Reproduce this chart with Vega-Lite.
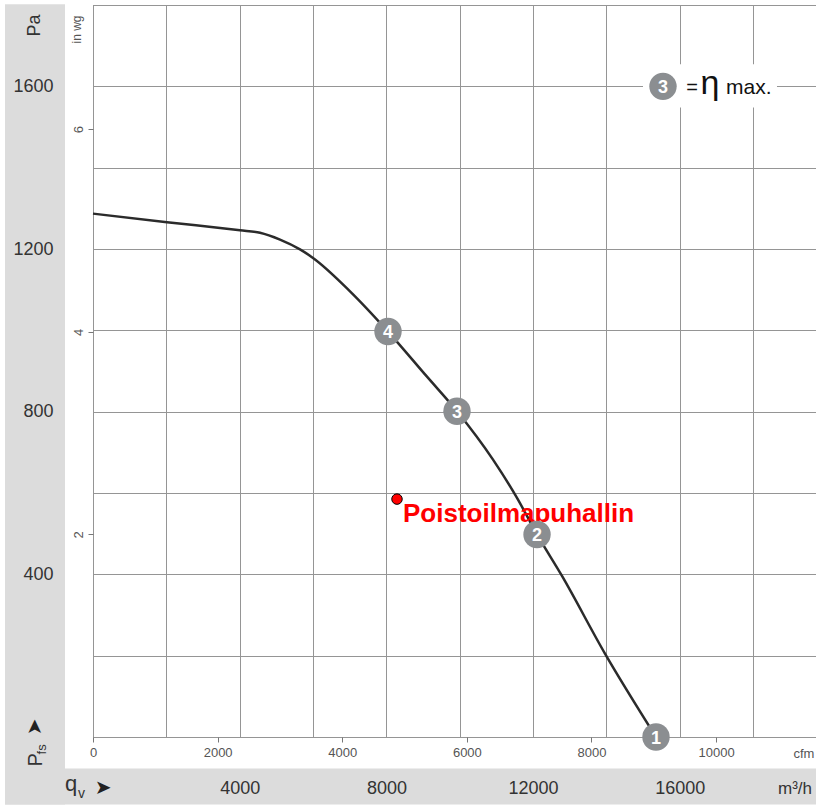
{
  "$schema": "https://vega.github.io/schema/vega-lite/v6.json",
  "width": 723,
  "height": 732,
  "autosize": {"type": "none"},
  "padding": {"left": 93, "top": 5, "right": 0, "bottom": 68},
  "background": "white",
  "config": {
    "view": {"stroke": "#707070", "strokeWidth": 1},
    "font": "Liberation Sans",
    "axis": {"gridColor": "#959595", "gridWidth": 1, "gridOpacity": 1}
  },
  "data": {"values": [{}]},
  "datasets": {
    "curve": [
      {"q": 0, "p": 1287},
      {"q": 2018, "p": 1266},
      {"q": 4008, "p": 1246},
      {"q": 4554, "p": 1240},
      {"q": 5099, "p": 1223},
      {"q": 5644, "p": 1199},
      {"q": 5999, "p": 1178},
      {"q": 7008, "p": 1096},
      {"q": 8044, "p": 997},
      {"q": 9107, "p": 886},
      {"q": 9925, "p": 801},
      {"q": 10907, "p": 682},
      {"q": 11561, "p": 588},
      {"q": 12107, "p": 498},
      {"q": 12788, "p": 396},
      {"q": 13960, "p": 205},
      {"q": 15351, "p": 0}
    ],
    "markers": [
      {"n": "1", "q": 15351, "p": 0},
      {"n": "2", "q": 12107, "p": 498},
      {"n": "3", "q": 9925, "p": 801},
      {"n": "4", "q": 8044, "p": 997}
    ],
    "duty": [{"name": "Poistoilmapuhallin", "q": 8289, "p": 585}]
  },
  "layer": [
    {
      "layer": [
        {
          "mark": {"type": "rect", "color": "#dcdcdc"},
          "encoding": {
            "x": {"datum": -2399, "type": "quantitative", "scale": {"domain": [0, 19714], "nice": false, "zero": false},
                  "axis": {"orient": "bottom", "grid": true, "values": [0, 2000, 4000, 6000, 8000, 10000, 12000, 14000, 16000, 18000], "labels": false, "ticks": false, "domain": false, "title": null}},
            "x2": {"datum": -763},
            "y": {"datum": -166, "type": "quantitative", "scale": {"domain": [0, 1800], "nice": false, "zero": false},
                  "axis": {"orient": "left", "grid": true, "values": [0, 200, 400, 600, 800, 1000, 1200, 1400, 1600, 1800], "labels": false, "ticks": false, "domain": false, "title": null}},
            "y2": {"datum": 1802}
          }
        },
        {
          "mark": {"type": "rect", "color": "#dcdcdc"},
          "encoding": {
            "x": {"datum": -2399, "type": "quantitative", "axis": {"orient": "bottom", "grid": true, "values": [0, 2000, 4000, 6000, 8000, 10000, 12000, 14000, 16000, 18000], "labels": false, "ticks": false, "domain": false, "title": null}},
            "x2": {"datum": 19800},
            "y": {"datum": -166, "type": "quantitative", "axis": {"orient": "left", "grid": true, "values": [0, 200, 400, 600, 800, 1000, 1200, 1400, 1600, 1800], "labels": false, "ticks": false, "domain": false, "title": null}},
            "y2": {"datum": -77.5}
          }
        },
        {
          "mark": {"type": "rect", "color": "white"},
          "encoding": {
            "x": {"datum": 14997, "type": "quantitative", "axis": {"orient": "bottom", "grid": true, "values": [0, 2000, 4000, 6000, 8000, 10000, 12000, 14000, 16000, 18000], "labels": false, "ticks": false, "domain": false, "title": null}},
            "x2": {"datum": 18650},
            "y": {"datum": 1548, "type": "quantitative", "axis": {"orient": "left", "grid": true, "values": [0, 200, 400, 600, 800, 1000, 1200, 1400, 1600, 1800], "labels": false, "ticks": false, "domain": false, "title": null}},
            "y2": {"datum": 1654}
          }
        },
        {
          "data": {"name": "curve"},
          "mark": {"type": "line", "interpolate": "monotone", "color": "#2b2b2b", "strokeWidth": 2.5},
          "encoding": {
            "x": {"field": "q", "type": "quantitative", "axis": {"orient": "bottom", "grid": true, "values": [0, 2000, 4000, 6000, 8000, 10000, 12000, 14000, 16000, 18000], "labels": false, "ticks": false, "domain": false, "title": null}},
            "y": {"field": "p", "type": "quantitative", "axis": {"orient": "left", "grid": true, "values": [0, 200, 400, 600, 800, 1000, 1200, 1400, 1600, 1800], "labels": false, "ticks": false, "domain": false, "title": null}}
          }
        },
        {
          "data": {"name": "duty"},
          "mark": {"type": "point", "shape": "circle", "filled": true, "size": 110, "fill": "#ff0000", "stroke": "#000000", "strokeWidth": 1, "opacity": 1},
          "encoding": {
            "x": {"field": "q", "type": "quantitative", "axis": {"orient": "bottom", "grid": true, "values": [0, 2000, 4000, 6000, 8000, 10000, 12000, 14000, 16000, 18000], "labels": false, "ticks": false, "domain": false, "title": null}},
            "y": {"field": "p", "type": "quantitative", "axis": {"orient": "left", "grid": true, "values": [0, 200, 400, 600, 800, 1000, 1200, 1400, 1600, 1800], "labels": false, "ticks": false, "domain": false, "title": null}}
          }
        },
        {
          "data": {"name": "duty"},
          "mark": {"type": "text", "color": "#ff0000", "font": "Liberation Sans", "fontWeight": "bold", "fontSize": 26, "align": "left", "baseline": "alphabetic", "dx": 6, "dy": 22.5},
          "encoding": {
            "x": {"field": "q", "type": "quantitative", "axis": {"orient": "bottom", "grid": true, "values": [0, 2000, 4000, 6000, 8000, 10000, 12000, 14000, 16000, 18000], "labels": false, "ticks": false, "domain": false, "title": null}},
            "y": {"field": "p", "type": "quantitative", "axis": {"orient": "left", "grid": true, "values": [0, 200, 400, 600, 800, 1000, 1200, 1400, 1600, 1800], "labels": false, "ticks": false, "domain": false, "title": null}},
            "text": {"field": "name"}
          }
        },
        {
          "data": {"name": "markers"},
          "mark": {"type": "point", "shape": "circle", "filled": true, "size": 750, "color": "#8b8e91", "opacity": 1},
          "encoding": {
            "x": {"field": "q", "type": "quantitative", "axis": {"orient": "bottom", "grid": true, "values": [0, 2000, 4000, 6000, 8000, 10000, 12000, 14000, 16000, 18000], "labels": false, "ticks": false, "domain": false, "title": null}},
            "y": {"field": "p", "type": "quantitative", "axis": {"orient": "left", "grid": true, "values": [0, 200, 400, 600, 800, 1000, 1200, 1400, 1600, 1800], "labels": false, "ticks": false, "domain": false, "title": null}}
          }
        },
        {
          "data": {"name": "markers"},
          "mark": {"type": "text", "color": "white", "font": "Liberation Sans", "fontWeight": "bold", "fontSize": 18, "align": "center", "baseline": "alphabetic", "dy": 6.5},
          "encoding": {
            "x": {"field": "q", "type": "quantitative", "axis": {"orient": "bottom", "grid": true, "values": [0, 2000, 4000, 6000, 8000, 10000, 12000, 14000, 16000, 18000], "labels": false, "ticks": false, "domain": false, "title": null}},
            "y": {"field": "p", "type": "quantitative", "axis": {"orient": "left", "grid": true, "values": [0, 200, 400, 600, 800, 1000, 1200, 1400, 1600, 1800], "labels": false, "ticks": false, "domain": false, "title": null}},
            "text": {"field": "n"}
          }
        },
        {
          "mark": {"type": "point", "shape": "circle", "filled": true, "size": 750, "color": "#8b8e91", "opacity": 1},
          "encoding": {
            "x": {"datum": 15542, "type": "quantitative", "axis": {"orient": "bottom", "grid": true, "values": [0, 2000, 4000, 6000, 8000, 10000, 12000, 14000, 16000, 18000], "labels": false, "ticks": false, "domain": false, "title": null}},
            "y": {"datum": 1600, "type": "quantitative", "axis": {"orient": "left", "grid": true, "values": [0, 200, 400, 600, 800, 1000, 1200, 1400, 1600, 1800], "labels": false, "ticks": false, "domain": false, "title": null}}
          }
        },
        {
          "mark": {"type": "text", "text": "3", "color": "white", "font": "Liberation Sans", "fontWeight": "bold", "fontSize": 18, "align": "center", "baseline": "alphabetic", "dy": 6.5},
          "encoding": {
            "x": {"datum": 15542, "type": "quantitative", "axis": {"orient": "bottom", "grid": true, "values": [0, 2000, 4000, 6000, 8000, 10000, 12000, 14000, 16000, 18000], "labels": false, "ticks": false, "domain": false, "title": null}},
            "y": {"datum": 1600, "type": "quantitative", "axis": {"orient": "left", "grid": true, "values": [0, 200, 400, 600, 800, 1000, 1200, 1400, 1600, 1800], "labels": false, "ticks": false, "domain": false, "title": null}}
          }
        },
        {
          "mark": {"type": "text", "text": "=", "color": "#111111", "font": "Liberation Sans", "fontSize": 20, "align": "center", "baseline": "alphabetic"},
          "encoding": {
            "x": {"datum": 16333, "type": "quantitative", "axis": {"orient": "bottom", "grid": true, "values": [0, 2000, 4000, 6000, 8000, 10000, 12000, 14000, 16000, 18000], "labels": false, "ticks": false, "domain": false, "title": null}},
            "y": {"datum": 1582, "type": "quantitative", "axis": {"orient": "left", "grid": true, "values": [0, 200, 400, 600, 800, 1000, 1200, 1400, 1600, 1800], "labels": false, "ticks": false, "domain": false, "title": null}}
          }
        },
        {
          "mark": {"type": "text", "text": "η", "color": "#111111", "font": "Liberation Sans", "fontSize": 34, "align": "center", "baseline": "alphabetic"},
          "encoding": {
            "x": {"datum": 16824, "type": "quantitative", "axis": {"orient": "bottom", "grid": true, "values": [0, 2000, 4000, 6000, 8000, 10000, 12000, 14000, 16000, 18000], "labels": false, "ticks": false, "domain": false, "title": null}},
            "y": {"datum": 1582, "type": "quantitative", "axis": {"orient": "left", "grid": true, "values": [0, 200, 400, 600, 800, 1000, 1200, 1400, 1600, 1800], "labels": false, "ticks": false, "domain": false, "title": null}}
          }
        },
        {
          "mark": {"type": "text", "text": "max.", "color": "#111111", "font": "Liberation Sans", "fontSize": 21, "align": "left", "baseline": "alphabetic"},
          "encoding": {
            "x": {"datum": 17260, "type": "quantitative", "axis": {"orient": "bottom", "grid": true, "values": [0, 2000, 4000, 6000, 8000, 10000, 12000, 14000, 16000, 18000], "labels": false, "ticks": false, "domain": false, "title": null}},
            "y": {"datum": 1582, "type": "quantitative", "axis": {"orient": "left", "grid": true, "values": [0, 200, 400, 600, 800, 1000, 1200, 1400, 1600, 1800], "labels": false, "ticks": false, "domain": false, "title": null}}
          }
        },
        {
          "mark": {"type": "text", "text": "q", "color": "#333333", "font": "Liberation Sans", "fontSize": 22, "align": "left", "baseline": "alphabetic"},
          "encoding": {
            "x": {"datum": -763, "type": "quantitative", "axis": {"orient": "bottom", "grid": true, "values": [0, 2000, 4000, 6000, 8000, 10000, 12000, 14000, 16000, 18000], "labels": false, "ticks": false, "domain": false, "title": null}},
            "y": {"datum": -134, "type": "quantitative", "axis": {"orient": "left", "grid": true, "values": [0, 200, 400, 600, 800, 1000, 1200, 1400, 1600, 1800], "labels": false, "ticks": false, "domain": false, "title": null}}
          }
        },
        {
          "mark": {"type": "text", "text": "v", "color": "#333333", "font": "Liberation Sans", "fontSize": 14, "align": "left", "baseline": "alphabetic"},
          "encoding": {
            "x": {"datum": -409, "type": "quantitative", "axis": {"orient": "bottom", "grid": true, "values": [0, 2000, 4000, 6000, 8000, 10000, 12000, 14000, 16000, 18000], "labels": false, "ticks": false, "domain": false, "title": null}},
            "y": {"datum": -149, "type": "quantitative", "axis": {"orient": "left", "grid": true, "values": [0, 200, 400, 600, 800, 1000, 1200, 1400, 1600, 1800], "labels": false, "ticks": false, "domain": false, "title": null}}
          }
        },
        {
          "mark": {"type": "text", "text": "➤", "color": "#222222", "font": "DejaVu Sans", "fontSize": 20, "align": "center", "baseline": "middle"},
          "encoding": {
            "x": {"datum": 273, "type": "quantitative", "axis": {"orient": "bottom", "grid": true, "values": [0, 2000, 4000, 6000, 8000, 10000, 12000, 14000, 16000, 18000], "labels": false, "ticks": false, "domain": false, "title": null}},
            "y": {"datum": -125, "type": "quantitative", "axis": {"orient": "left", "grid": true, "values": [0, 200, 400, 600, 800, 1000, 1200, 1400, 1600, 1800], "labels": false, "ticks": false, "domain": false, "title": null}}
          }
        },
        {
          "mark": {"type": "text", "text": "P", "color": "#333333", "font": "Liberation Sans", "fontSize": 20, "align": "left", "baseline": "alphabetic", "angle": -90},
          "encoding": {
            "x": {"datum": -1391, "type": "quantitative", "axis": {"orient": "bottom", "grid": true, "values": [0, 2000, 4000, 6000, 8000, 10000, 12000, 14000, 16000, 18000], "labels": false, "ticks": false, "domain": false, "title": null}},
            "y": {"datum": -72.5, "type": "quantitative", "axis": {"orient": "left", "grid": true, "values": [0, 200, 400, 600, 800, 1000, 1200, 1400, 1600, 1800], "labels": false, "ticks": false, "domain": false, "title": null}}
          }
        },
        {
          "mark": {"type": "text", "text": "fs", "color": "#333333", "font": "Liberation Sans", "fontSize": 13, "align": "left", "baseline": "alphabetic", "angle": -90},
          "encoding": {
            "x": {"datum": -1282, "type": "quantitative", "axis": {"orient": "bottom", "grid": true, "values": [0, 2000, 4000, 6000, 8000, 10000, 12000, 14000, 16000, 18000], "labels": false, "ticks": false, "domain": false, "title": null}},
            "y": {"datum": -43, "type": "quantitative", "axis": {"orient": "left", "grid": true, "values": [0, 200, 400, 600, 800, 1000, 1200, 1400, 1600, 1800], "labels": false, "ticks": false, "domain": false, "title": null}}
          }
        },
        {
          "mark": {"type": "text", "text": "➤", "color": "#222222", "font": "DejaVu Sans", "fontSize": 20, "align": "center", "baseline": "middle", "angle": -90},
          "encoding": {
            "x": {"datum": -1581, "type": "quantitative", "axis": {"orient": "bottom", "grid": true, "values": [0, 2000, 4000, 6000, 8000, 10000, 12000, 14000, 16000, 18000], "labels": false, "ticks": false, "domain": false, "title": null}},
            "y": {"datum": 24.6, "type": "quantitative", "axis": {"orient": "left", "grid": true, "values": [0, 200, 400, 600, 800, 1000, 1200, 1400, 1600, 1800], "labels": false, "ticks": false, "domain": false, "title": null}}
          }
        }
      ]
    },
    {
      "mark": {"type": "point", "opacity": 0},
      "encoding": {
        "x": {"datum": 0, "type": "quantitative", "scale": {"domain": [0, 19714], "nice": false, "zero": false},
              "axis": {"orient": "bottom", "values": [4000, 8000, 12000, 16000], "format": "d", "grid": false, "ticks": false, "domain": false,
                       "labelFont": "Liberation Sans", "labelFontSize": 18, "labelColor": "#333333", "labelBaseline": "alphabetic", "labelPadding": 56, "labelFlush": false, "labelOverlap": false,
                       "title": "m³/h", "titleX": 701.5, "titleY": 56.5, "titleAlign": "center", "titleBaseline": "alphabetic", "titleFont": "Liberation Sans", "titleFontSize": 17, "titleFontWeight": "normal", "titleColor": "#333333", "zindex": 1}},
        "y": {"datum": 0, "type": "quantitative", "scale": {"domain": [0, 1800], "nice": false, "zero": false},
              "axis": {"orient": "left", "values": [400, 800, 1200, 1600], "format": "d", "grid": false, "ticks": false, "domain": false,
                       "labelFont": "Liberation Sans", "labelFontSize": 18, "labelColor": "#333333", "labelPadding": 40, "labelOverlap": false,
                       "title": "Pa", "titleX": -59, "titleY": 20, "titleAngle": -90, "titleAlign": "center", "titleBaseline": "middle", "titleFont": "Liberation Sans", "titleFontSize": 18, "titleFontWeight": "normal", "titleColor": "#333333", "zindex": 1}}
      }
    },
    {
      "mark": {"type": "point", "opacity": 0},
      "encoding": {
        "x": {"datum": 0, "type": "quantitative", "scale": {"domain": [0, 11603.2], "nice": false, "zero": false},
              "axis": {"orient": "bottom", "values": [0, 2000, 4000, 6000, 8000, 10000], "format": "d", "grid": false, "ticks": true, "tickSize": 5, "tickColor": "#777777", "domain": false,
                       "labelFont": "Liberation Sans", "labelFontSize": 13, "labelColor": "#555555", "labelPadding": 4, "labelFlush": false, "labelOverlap": false,
                       "title": "cfm", "titleX": 700, "titleY": 20, "titleAlign": "left", "titleBaseline": "alphabetic", "titleFont": "Liberation Sans", "titleFontSize": 13, "titleFontWeight": "normal", "titleColor": "#555555", "zindex": 1}},
        "y": {"datum": 0, "type": "quantitative", "scale": {"domain": [0, 7.2264], "nice": false, "zero": false},
              "axis": {"orient": "left", "values": [2, 4, 6], "format": "d", "grid": false, "ticks": true, "tickSize": 5, "tickColor": "#777777", "domain": false,
                       "labelFont": "Liberation Sans", "labelFontSize": 13, "labelColor": "#555555", "labelAngle": -90, "labelAlign": "center", "labelBaseline": "middle", "labelPadding": 10, "labelOverlap": false,
                       "title": "in wg", "titleX": -17, "titleY": 24, "titleAngle": -90, "titleAlign": "center", "titleBaseline": "middle", "titleFont": "Liberation Sans", "titleFontSize": 12, "titleFontWeight": "normal", "titleColor": "#555555", "zindex": 1}}
      }
    }
  ],
  "resolve": {"scale": {"x": "independent", "y": "independent"}, "axis": {"x": "independent", "y": "independent"}}
}
